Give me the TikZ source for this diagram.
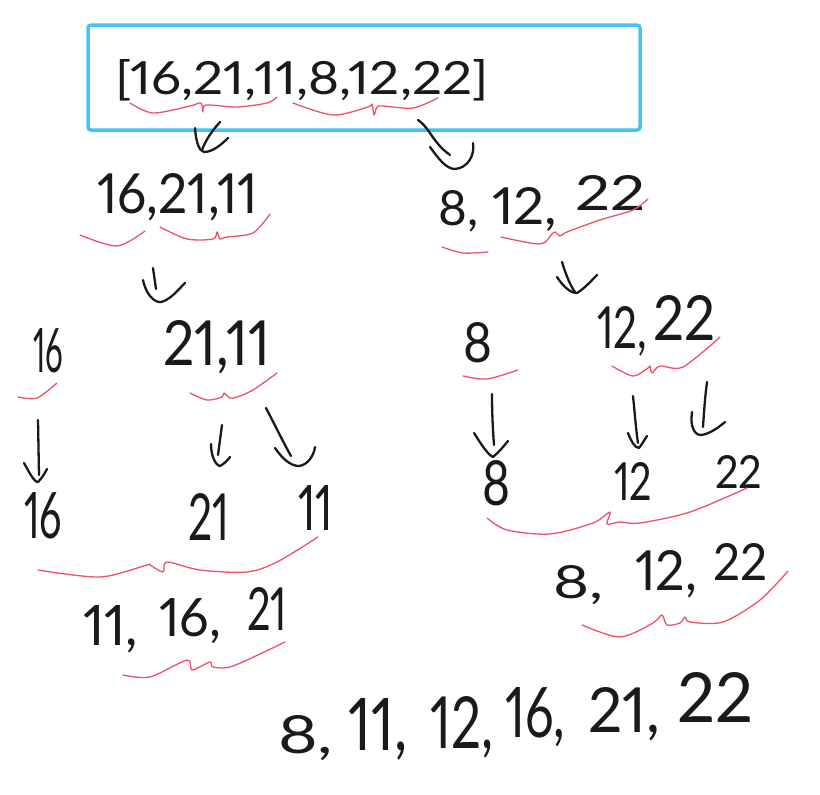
\documentclass[tikz,border=0pt]{standalone}
\usepackage{fontspec}
\setmainfont{Lato}[Numbers=Proportional]
\usepackage{graphicx}
\definecolor{boxblue}{HTML}{45C4F0}
\definecolor{bracered}{HTML}{F0506A}
\definecolor{ink}{HTML}{1A1A1A}
\newcommand{\hw}[3]{\resizebox{#1pt}{#2pt}{#3}}
\tikzset{
  numtext/.style={anchor=base west, inner sep=0pt, text=ink},
  brace/.style={draw=bracered, line width=1.3pt, line cap=round, line join=round},
  pen/.style={draw=ink, line width=2.3pt, line cap=round, line join=round},
  frame/.style={draw=boxblue, line width=3.5pt, rounded corners=3pt}
}
\begin{document}
\begin{tikzpicture}[x=1pt,y=-1pt]
\useasboundingbox[fill=white] (0,0) rectangle (820,795);
% top box
\draw[frame] (88,25) rectangle (640,130);
\node[numtext] (top) at (115,94) {\hw{373}{35}{[16,21,11,8,12,22]}};
% top braces
\draw[brace] plot[smooth, tension=0.5] coordinates {(130,103) (153,113) (190,106) (201,103) (203,112) (206,105) (237,107) (267,103) (277,97)};
\draw[brace] plot[smooth, tension=0.5] coordinates {(293,103) (333,115) (368,107) (372,104) (374,115) (377,107) (383,106) (413,108) (438,98)};
% top arrows
\draw[pen] (220,122) .. controls (210,133) and (205,142) .. (202,150);
\draw[pen] (195,128) .. controls (196,142) and (199,151) .. (204,152) .. controls (213,152) and (222,144) .. (228,138);
\draw[pen] (418,120) .. controls (430,128) and (432,142) .. (450,155);
\draw[pen] (430,147) .. controls (438,158) and (446,169) .. (455,169) .. controls (468,168) and (475,155) .. (473,143);
% level 2
\node[numtext] (l2a) at (97,213) {\hw{161}{40}{16,21,11}};
\node[numtext] (l2b1) at (438,225) {\hw{40}{35}{8,}};
\node[numtext] (l2b2) at (492,224) {\hw{65}{37}{12,}};
\node[numtext] (l2b3) at (575,210) {\hw{70}{35}{22}};
\draw[brace] plot[smooth, tension=0.5] coordinates {(80,235) (117,246) (145,231)};
\draw[brace] plot[smooth, tension=0.5] coordinates {(160,227) (187,239) (213,239) (217,232) (220,239) (227,237) (253,233) (270,214)};
\draw[brace] plot[smooth, tension=0.5] coordinates {(442,247) (463,253) (488,252)};
\draw[brace] plot[smooth, tension=0.5] coordinates {(501,237) (540,244) (552,234) (555,232) (560,236) (567,232) (600,220) (633,210) (648,199)};
% level 2 arrows
\draw[pen] (153,268) -- (156,289);
\draw[pen] (143,280) .. controls (146,295) and (155,303) .. (161,302) .. controls (170,300) and (178,290) .. (185,283);
\draw[pen] (562,262) .. controls (566,275) and (570,285) .. (575,292);
\draw[pen] (557,277) .. controls (563,286) and (570,293) .. (577,293) .. controls (585,288) and (591,281) .. (597,275);
% level 3
\node[numtext] (l3a) at (33,372) {\hw{30}{44}{16}};
\node[numtext] (l3b) at (163,365) {\hw{107}{45}{21,11}};
\node[numtext] (l3c) at (463,362) {\hw{29}{40}{8}};
\node[numtext] (l3d1) at (597,348) {\hw{50}{42}{12,}};
\node[numtext] (l3d2) at (653,340) {\hw{62}{45}{22}};
\draw[brace] plot[smooth, tension=0.5] coordinates {(18,397) (37,398) (57,383)};
\draw[brace] plot[smooth, tension=0.5] coordinates {(190,393) (207,400) (222,397) (224,393) (230,398) (237,397) (253,390) (277,373)};
\draw[brace] plot[smooth, tension=0.5] coordinates {(463,376) (487,379) (518,370)};
\draw[brace] plot[smooth, tension=0.5] coordinates {(612,366) (633,376) (648,368) (650,366) (652,373) (660,366) (683,367) (720,337)};
% level 3 arrows
\draw[pen] (38,420) -- (39,475);
\draw[pen] (24,463) .. controls (29,472) and (34,482) .. (38,482) .. controls (42,478) and (45,473) .. (47,469);
\draw[pen] (222,425) -- (218,455);
\draw[pen] (211,444) .. controls (211,455) and (215,465) .. (220,466) .. controls (224,464) and (228,460) .. (230,457);
\draw[pen] (266,408) .. controls (275,425) and (283,442) .. (291,456);
\draw[pen] (275,448) .. controls (282,458) and (290,466) .. (299,466) .. controls (308,465) and (314,455) .. (315,447);
\draw[pen] (492,394) .. controls (492,415) and (493,432) .. (494,445);
\draw[pen] (474,433) .. controls (481,444) and (488,455) .. (493,457) .. controls (499,452) and (504,446) .. (508,441);
\draw[pen] (633,396) .. controls (635,415) and (636,430) .. (638,443);
\draw[pen] (628,433) .. controls (631,441) and (635,448) .. (639,448) .. controls (642,444) and (645,439) .. (647,436);
\draw[pen] (707,382) .. controls (705,397) and (704,412) .. (703,427);
\draw[pen] (692,412) .. controls (690,426) and (694,435) .. (701,435) .. controls (710,434) and (719,427) .. (725,422);
% level 4
\node[numtext] (l4a) at (24,538) {\hw{38}{46}{16}};
\node[numtext] (l4b) at (188,540) {\hw{41}{47}{21}};
\node[numtext] (l4c) at (298,530) {\hw{35}{45}{11}};
\node[numtext] (l4d) at (482,505) {\hw{28}{45}{8}};
\node[numtext] (l4e) at (614,500) {\hw{38}{38}{12}};
\node[numtext] (l4f) at (715,488) {\hw{47}{33}{22}};
\draw[brace] plot[smooth, tension=0.5] coordinates {(38,570) (100,577) (147,565) (150,565) (163,572) (167,562) (200,570) (247,572) (277,562) (318,537)};
\draw[brace] plot[smooth, tension=0.5] coordinates {(487,518) (507,530) (550,534) (593,523) (610,512) (607,524) (620,522) (640,523) (690,512) (747,488)};
% level 5
\node[numtext] (l5a1) at (83,645) {\hw{55}{40}{11,}};
\node[numtext] (l5a2) at (159,636) {\hw{62}{38}{16,}};
\node[numtext] (l5a3) at (247,630) {\hw{40}{43}{21}};
\node[numtext] (l5b1) at (553,598) {\hw{50}{33}{8,}};
\node[numtext] (l5b2) at (635,590) {\hw{62}{40}{12,}};
\node[numtext] (l5b3) at (713,580) {\hw{54}{37}{22}};
\draw[brace] plot[smooth, tension=0.5] coordinates {(123,675) (150,677) (187,660) (192,670) (210,662) (213,667) (233,666) (285,642)};
\draw[brace] plot[smooth, tension=0.5] coordinates {(582,625) (620,637) (653,623) (662,615) (667,625) (680,623) (685,617) (690,622) (723,622) (760,600) (788,571)};
% final
\node[numtext] (f1) at (278,753) {\hw{55}{38}{8,}};
\node[numtext] (f2) at (348,750) {\hw{59}{52}{11,}};
\node[numtext] (f3) at (430,748) {\hw{63}{52}{12,}};
\node[numtext] (f4) at (505,737) {\hw{60}{50}{16,}};
\node[numtext] (f5) at (588,732) {\hw{72}{45}{21,}};
\node[numtext] (f6) at (677,722) {\hw{76}{50}{22}};
\end{tikzpicture}
\end{document}
